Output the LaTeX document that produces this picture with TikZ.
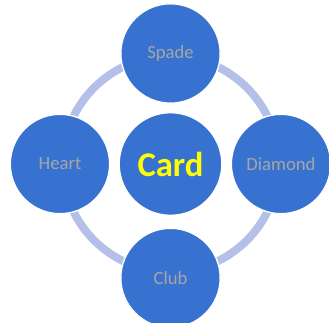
\documentclass[tikz,border=0pt]{standalone}
\usepackage{fontspec}
\setmainfont{Carlito}
\usepackage{tikz}
\usetikzlibrary{positioning}
\definecolor{SuitBlue}{RGB}{56,114,208}
\definecolor{RingBlue}{RGB}{180,192,232}
\definecolor{SuitGray}{RGB}{166,166,166}
\definecolor{CardYellow}{RGB}{255,255,0}
\tikzset{
    suit/.style={circle, draw=white, line width=1pt, fill=SuitBlue, minimum size=74.5pt, inner sep=0pt, text=SuitGray, font=\fontsize{14}{17}\selectfont},
    hub/.style={suit, minimum size=77pt, text=CardYellow, font=\fontsize{26}{31}\selectfont\bfseries}
}

\begin{document}
\begin{tikzpicture}[
        x=0.75pt, y=-0.75pt, % 1 unit = 1 pixel, y downwards
        on grid,
        % --- ring behind the circles ---
        ring/.style={draw=RingBlue, line width=6pt}
    ]
    \useasboundingbox (0,0) rectangle (329,322);

    % --- center ---
    \node[hub] (card) at (170.5,164) {Card};

    % --- ring ---
    \draw[ring] (card.center) circle[radius=81pt];

    % --- the four suits ---
    \node[suit, above=82.9pt of card] (spade) {Spade};
    \node[suit, right=82.9pt of card] (diamond) {Diamond};
    \node[suit, below=85.5pt of card] (club) {Club};
    \node[suit, left=82.9pt of card] (heart) {Heart};

\end{tikzpicture}
\end{document}
